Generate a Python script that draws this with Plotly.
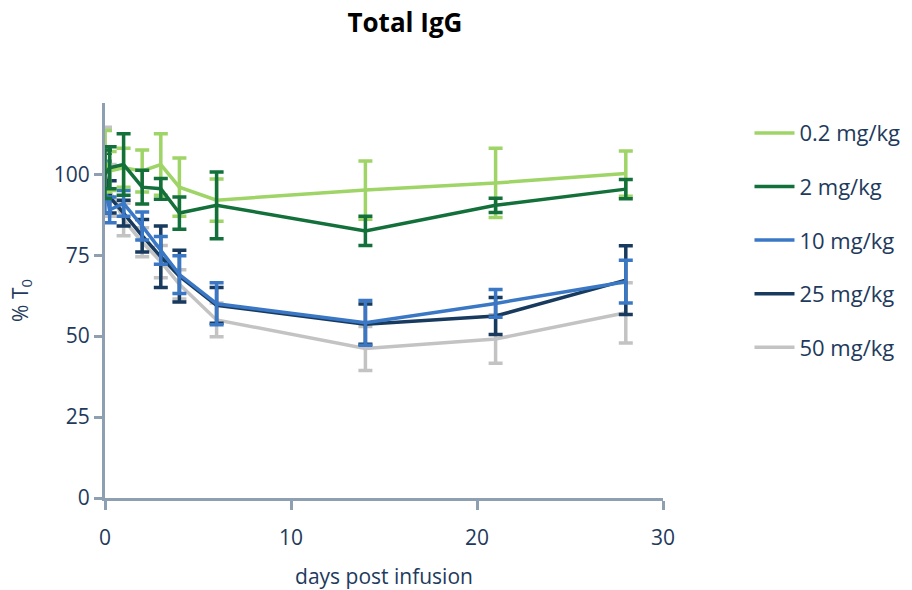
import plotly.graph_objects as go

# Sampling days after infusion
days = [0, 0.25, 1, 2, 3, 4, 6, 14, 21, 28]

# Total IgG as % of baseline (T0): mean and SD for each dose group
dose_labels = ["0.2 mg/kg", "2 mg/kg", "10 mg/kg", "25 mg/kg", "50 mg/kg"]
mean_02 = [104, 101, 102, 101, 103, 96, 92, 95.1, 97.3, 100.2]
sd_02 = [9.5, 6, 6, 6.5, 9.5, 9, 6.5, 9, 10.7, 7]
mean_2 = [100, 102, 103, 96, 95.5, 88, 90.4, 82.5, 90.4, 95.4]
sd_2 = [7.5, 6.5, 9.5, 5.2, 3.2, 5, 10.3, 4.5, 2.2, 3]
mean_10 = [96, 89, 91, 84, 76.5, 69, 60, 54.1, 60.1, 66.8]
sd_10 = [8, 4, 4, 4.3, 4.3, 5.8, 6.5, 6.9, 4.3, 6.6]
mean_25 = [100, 93, 88, 81, 74.5, 68.5, 59.5, 53.7, 56.2, 67.3]
sd_25 = [6.5, 5, 4, 5, 9.5, 8, 5.5, 6.2, 5.7, 10.6]
mean_50 = [103, 95, 86, 79, 73, 66, 55, 46.2, 49.1, 57.2]
sd_50 = [11.5, 8, 5, 4.5, 5, 4.5, 5.2, 6.8, 7.5, 9.3]

colors = {
    "0.2 mg/kg": "#9fd467",
    "2 mg/kg": "#13703a",
    "10 mg/kg": "#3a78c6",
    "25 mg/kg": "#173a5e",
    "50 mg/kg": "#c3c3c3",
}
series = {
    "0.2 mg/kg": (mean_02, sd_02),
    "2 mg/kg": (mean_2, sd_2),
    "10 mg/kg": (mean_10, sd_10),
    "25 mg/kg": (mean_25, sd_25),
    "50 mg/kg": (mean_50, sd_50),
}

# drawing order (back to front); legend order follows dose
draw_order = ["50 mg/kg", "25 mg/kg", "10 mg/kg", "0.2 mg/kg", "2 mg/kg"]

axis_col = "#8d9fb1"
text_col = "#1e3a5c"
font_family = "Open Sans, Lato, sans-serif"

fig = go.Figure()
for name in draw_order:
    m, s = series[name]
    fig.add_trace(go.Scatter(
        x=days, y=m, name=name, mode="lines",
        line=dict(color=colors[name], width=3.5),
        error_y=dict(type="data", array=s, visible=True,
                     color=colors[name], thickness=3.5, width=7),
        legendrank=dose_labels.index(name) + 1,
        legendgroup=name,
    ))

fig.update_layout(
    width=912, height=590,
    margin=dict(l=105, r=249, t=103, b=92, autoexpand=False),
    plot_bgcolor="white", paper_bgcolor="white",
    title=dict(text="<b>Total IgG</b>", x=0.444, xanchor="center",
               y=0.962, yanchor="middle",
               font=dict(family=font_family, size=26, color="black")),
    font=dict(family=font_family, size=20, color=text_col),
    legend=dict(x=1.155, xanchor="left", y=0.977, yanchor="top",
                font=dict(size=22, color=text_col),
                tracegroupgap=22, itemwidth=40),
    showlegend=True,
)
fig.update_xaxes(
    range=[0, 30], tickvals=[0, 10, 20, 30],
    showline=True, linecolor=axis_col, linewidth=3,
    ticks="outside", tickcolor=axis_col, tickwidth=3, ticklen=9,
    ticklabelstandoff=10, automargin=False,
    showgrid=False, zeroline=False,
    title=dict(text="days post infusion", standoff=24,
               font=dict(size=21, color=text_col)),
    tickfont=dict(size=21, color=text_col),
)
fig.update_yaxes(
    range=[0, 122], tickvals=[0, 25, 50, 75, 100],
    showline=True, linecolor=axis_col, linewidth=3,
    ticks="outside", tickcolor=axis_col, tickwidth=3, ticklen=8,
    automargin=False,
    showgrid=False, zeroline=False,
    title=dict(text="% T<sub>0</sub>", standoff=20,
               font=dict(size=21, color=text_col)),
    tickfont=dict(size=21, color=text_col),
)

fig.write_html("out.html")
